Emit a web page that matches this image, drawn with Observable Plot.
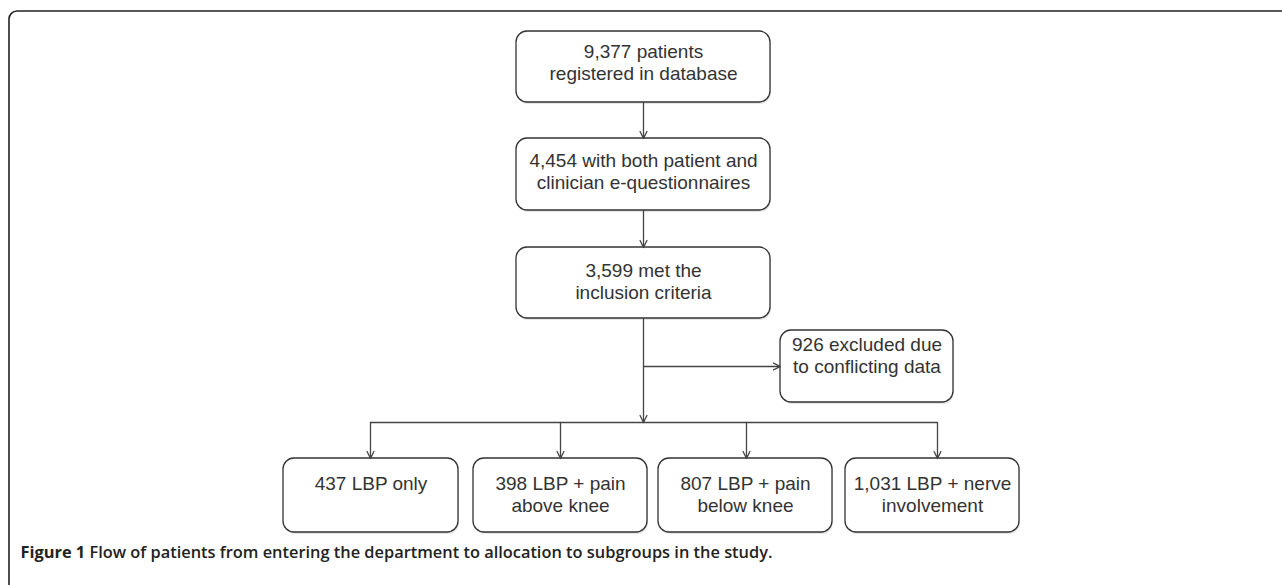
<!DOCTYPE html>
<html><head><meta charset="utf-8">
<script src="https://cdn.jsdelivr.net/npm/d3@7"></script>
<script src="https://cdn.jsdelivr.net/npm/@observablehq/plot@0.6"></script>
<style>
body{margin:0;background:#fff;overflow:hidden}
#chart svg{overflow:hidden;display:block}
</style>
</head><body><div id="chart"></div>
<script>
// ---- content ----
const mainLabels = ["9,377 patients\nregistered in database", "4,454 with both patient and\nclinician e-questionnaires", "3,599 met the\ninclusion criteria"];
const excludedLabels = ["926 excluded due\nto conflicting data"];
const subgroupLabels = ["437 LBP only", "398 LBP + pain\nabove knee", "807 LBP + pain\nbelow knee", "1,031 LBP + nerve\ninvolvement"];
const captionBold = "Figure 1";
const captionText = "Flow of patients from entering the department to allocation to subgroups in the study.";

// ---- layout (pixel space) ----
const mainBoxes = mainLabels.map((label, i) => ({label, x1: 516, x2: 770, y1: [31, 138, 247][i], y2: [102, 210, 318][i], base: [57, 166, 276][i], rx: 10}));
const sideBoxes = excludedLabels.map(label => ({label, x1: 780, x2: 953, y1: 330, y2: 402, base: 350, rx: 10}));
const subBoxes = subgroupLabels.map((label, i) => ({label, x1: [283, 473, 658, 845][i], x2: [458, 647, 832, 1019][i], y1: 458, y2: 532, base: 489, rx: 12}));
const allBoxes = [...mainBoxes, ...sideBoxes, ...subBoxes];
const lineGap = 22.5;
const textRows = allBoxes.flatMap(b => b.label.split("\n").map((t, j) => ({t, x: (b.x1 + b.x2) / 2, y: b.base + j * lineGap})));

const arrows = [
  {x1: 643, y1: 102, x2: 643, y2: 138},
  {x1: 643, y1: 210, x2: 643, y2: 247},
  {x1: 643, y1: 318, x2: 643, y2: 422},
  {x1: 643, y1: 366, x2: 780, y2: 366},
  ...[370, 560, 746, 937].map(x => ({x1: x, y1: 422, x2: x, y2: 458}))
];

const capFont = "Open Sans";
function measure(txt, weight, size) {
  const c = document.createElement("canvas").getContext("2d");
  c.font = `${weight} ${size}px "${capFont}"`;
  return c.measureText(txt).width;
}
const capX = 20, capTarget = 753;
const w15 = measure(captionBold + " ", 700, 15) + measure(captionText, 600, 15);
const capSize = 15 * capTarget / w15;
const capX2 = capX + measure(captionBold + " ", 700, capSize);

const stroke = "#333";
const plot = Plot.plot({
  width: 1282, height: 585, margin: 0,
  x: {domain: [0, 1282], range: [0, 1282], axis: null},
  y: {domain: [0, 585], range: [0, 585], axis: null},
  style: {background: "#fff"},
  marks: [
    Plot.rect([0], {x1: 9, x2: 1400, y1: 11, y2: 700, rx: 8, fill: "none", stroke: "#222", strokeWidth: 1.6}),
    Plot.rect(allBoxes, {x1: d => d.x1 + 1, x2: d => d.x2 + 1, y1: d => d.y1 + 2, y2: d => d.y2 + 2, rx: 11, fill: "#e6e6e6"}),
    Plot.rect(allBoxes, {x1: "x1", x2: "x2", y1: "y1", y2: "y2", rx: 11, fill: "#fff", stroke, strokeWidth: 1.3}),
    Plot.ruleY([422], {x1: 370, x2: 937, stroke: "#444", strokeWidth: 1.3}),
    Plot.arrow(arrows, {x1: "x1", y1: "y1", x2: "x2", y2: "y2", stroke: "#444", strokeWidth: 1.3, headLength: 9, headAngle: 52}),
    Plot.text(textRows, {x: "x", y: "y", text: "t", lineAnchor: "bottom", fontSize: 19, fontFamily: "Liberation Sans", fill: "#333"}),
    Plot.text([captionBold], {x: capX, y: 557, text: d => d, textAnchor: "start", lineAnchor: "bottom", fontSize: capSize, fontFamily: capFont, fontWeight: 700, fill: "#222"}),
    Plot.text([captionText], {x: capX2, y: 557, text: d => d, textAnchor: "start", lineAnchor: "bottom", fontSize: capSize, fontFamily: capFont, fontWeight: 600, fill: "#222"})
  ]
});
document.getElementById("chart").appendChild(plot);
</script>
</body></html>
